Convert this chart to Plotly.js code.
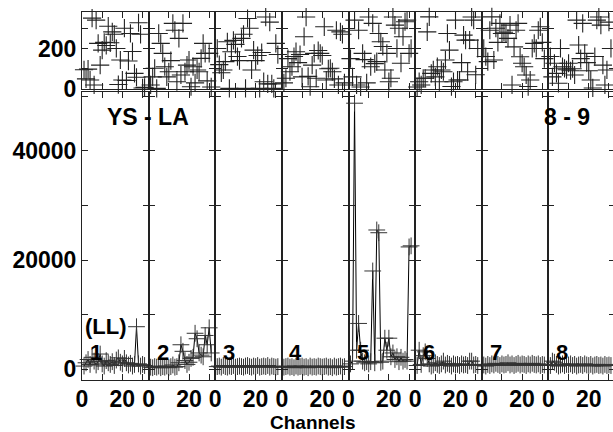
<!DOCTYPE html>
<html>
<head>
<meta charset="utf-8">
<script src="https://cdn.plot.ly/plotly-3.0.1.min.js"></script>
<style>
html,body{margin:0;padding:0;overflow:hidden;background:#fff;}
#chart{width:620px;height:432px;}
</style>
</head>
<body>
<div id="chart"></div>
<script>
// Channel numbers (x values, one panel per IF)
const channels = [1,2,3,4,5,6,7,8,9,10,11,12,13,14,15,16,17,18,19,20,21,22,23,24,25,26,27,28,29,30,31];
const panelLabels = ['1','2','3','4','5','6','7','8'];

// Phase (degrees), top row
const phase1 = [95,50,98,44,350,20,340,225,118,192,230,215,310,228,282,270,200,22,143,44,300,42,138,274,185,77,58,327,270,5,8];
const phase2 = [20,60,102,3,274,225,176,110,60,85,140,324,290,36,250,69,324,85,118,143,11,110,30,94,85,151,225,176,40,176,10];
const phase3 = [200,120,80,94,135,233,3,184,240,220,160,140,250,270,3,348,300,94,192,140,165,3,180,36,355,25,330,25,3,225,170];
const phase4 = [30,53,150,85,110,160,184,130,170,60,258,355,62,11,118,176,53,190,176,165,307,44,100,102,85,50,290,20,282,270,30];
const phase5 = [150,60,340,20,290,10,176,145,30,355,110,324,125,135,274,233,210,94,176,36,53,355,315,200,300,127,258,332,340,176,200];
const phase6 = [10,36,20,53,53,282,356,77,94,60,110,36,94,85,143,274,192,12,36,340,44,44,130,266,241,85,241,355,340,70,200];
const phase7 = [200,160,135,290,356,143,300,230,324,274,280,274,250,315,20,208,290,324,159,127,110,69,12,44,200,225,200,290,307,230,150];
const phase8 = [160,60,127,77,28,200,110,102,95,127,90,100,69,340,217,150,324,176,130,90,44,5,160,340,355,315,118,20,94,330,200];

// Amplitude, bottom row
const amp1 = [600,1200,1800,900,2200,1500,800,1400,2800,1000,600,1600,1200,900,1400,700,1700,2100,1300,1000,2000,1200,800,1100,600,900,7800,1000,600,900,700];
const amp2 = [400,300,500,400,600,300,500,400,600,300,500,800,400,500,1200,4500,3300,1600,900,1300,2000,2200,6600,5600,3000,2600,2300,6200,4500,7600,3000];
const amp3 = [500,600,400,700,500,400,600,500,700,400,500,600,500,400,600,700,500,400,600,500,700,400,500,600,500,700,400,600,500,400,500];
const amp4 = [400,500,600,400,500,300,600,400,500,600,400,500,300,600,400,500,400,600,500,400,500,600,400,500,300,600,400,500,600,400,500];
const amp5 = [1000,1500,48700,3500,8400,3500,1500,1200,1400,1000,1400,18000,1200,25500,25000,1300,1500,5700,3500,5700,2300,3000,1800,2300,1400,2200,1500,1800,1500,22400,22600];
const amp6 = [700,3500,900,2500,3200,2000,1000,600,800,1200,900,700,1000,1500,800,1100,900,600,1000,800,900,700,1000,800,900,700,1500,1500,800,900,700];
const amp7 = [800,600,900,700,1000,800,1100,900,700,1000,800,900,1200,800,1000,700,900,1100,800,1000,900,700,1000,800,1100,900,800,1000,700,900,800];
const amp8 = [700,1500,1300,900,600,800,1000,700,900,800,1000,700,900,600,800,900,700,1000,800,700,900,600,800,900,700,800,600,900,700,800,700];

const phases = [phase1,phase2,phase3,phase4,phase5,phase6,phase7,phase8];
const amps = [amp1,amp2,amp3,amp4,amp5,amp6,amp7,amp8];

const nP = 8;
const W = 620, H = 432;
const mL = 82, mR = 5, mT = 12, mB = 52;
const plotW = W - mL - mR, plotH = H - mT - mB;
const ink = '#222';
const tickFont = {family:'Liberation Sans, Arial, sans-serif', size:23, weight:'bold', color:'#000'};

const data = [];
const layout = {
  width: W, height: H,
  margin: {l:mL, r:mR, t:mT, b:mB, pad:0},
  showlegend: false,
  paper_bgcolor: '#fff', plot_bgcolor: '#fff',
  font: {family:'Liberation Sans, Arial, sans-serif', color:'#000'},
  annotations: []
};

const botTop = 0.7826, topBot = 0.7908;
const xr = [0, 33];

function axName(k){ return k === 1 ? '' : String(k); }

for (let i = 0; i < nP; i++) {
  const kb = 2*i + 1, kt = 2*i + 2;
  const dom = [i/nP, (i+1)/nP];
  const baseX = {
    domain: dom, range: xr, showgrid:false, zeroline:false,
    showline:true, linecolor:ink, linewidth:1, mirror:'allticks',
    ticks:'inside', ticklen:6, tickwidth:1, tickcolor:ink,
    tick0:0, dtick:20, tickformat:'d',
    minor:{dtick:10, tick0:0, ticks:'inside', ticklen:6, tickwidth:1, tickcolor:ink, showgrid:false},
    tickfont: tickFont, fixedrange:true
  };
  layout['xaxis'+axName(kb)] = Object.assign({}, baseX, {anchor:'y'+axName(kb), showticklabels:true, ticklabelstandoff:-2});
  layout['xaxis'+axName(kt)] = Object.assign({}, baseX, {anchor:'y'+axName(kt), showticklabels:false});

  const baseY = {
    showgrid:false, zeroline:false, showline:true, linecolor:ink, linewidth:1,
    mirror:'allticks', ticks:'inside', ticklen:6, tickwidth:1, tickcolor:ink,
    tickfont: tickFont, fixedrange:true, showticklabels: i === 0, ticklabelstandoff:0,
    tickformat:'d'
  };
  layout['yaxis'+axName(kb)] = Object.assign({}, baseY, {
    domain:[0, botTop], anchor:'x'+axName(kb), range:[-1950, 50750],
    tick0:0, dtick:20000,
    minor:{dtick:10000, tick0:0, ticks:'inside', ticklen:6, tickwidth:1, tickcolor:ink, showgrid:false}
  });
  layout['yaxis'+axName(kt)] = Object.assign({}, baseY, {
    domain:[topBot, 1], anchor:'x'+axName(kt), range:[0, 380],
    tick0:0, dtick:200,
    minor:{dtick:100, tick0:0, ticks:'inside', ticklen:6, tickwidth:1, tickcolor:ink, showgrid:false}
  });

  data.push({
    type:'scatter', mode:'lines+markers', x:channels, y:amps[i],
    xaxis:'x'+axName(kb), yaxis:'y'+axName(kb), cliponaxis:false,
    line:{color:'#000', width:1},
    marker:{symbol:'cross-thin-open', size:12, color:'#333', line:{color:'#333', width:1}}
  });
  data.push({
    type:'scatter', mode:'markers', x:channels, y:phases[i],
    xaxis:'x'+axName(kt), yaxis:'y'+axName(kt), cliponaxis:false,
    marker:{symbol:'cross-thin-open', size:13, color:'#222', line:{color:'#222', width:1.1}}
  });

  layout.annotations.push({
    xref:'paper', yref:'paper',
    x:(96 + i*plotW/nP - mL)/plotW, y:(H - mB - 352)/plotH,
    text: panelLabels[i], showarrow:false, xanchor:'center', yanchor:'middle',
    font:{size:22, weight:'bold', color:'#000'}
  });
}

function px(xp){ return (xp - mL)/plotW; }
function py(yp){ return (H - mB - yp)/plotH; }
layout.annotations.push(
  {xref:'paper', yref:'paper', x:px(148), y:py(117), text:'YS - LA', showarrow:false, xanchor:'center', yanchor:'middle', font:{size:23, weight:'bold', color:'#000'}},
  {xref:'paper', yref:'paper', x:px(567), y:py(117), text:'8 - 9', showarrow:false, xanchor:'center', yanchor:'middle', font:{size:23, weight:'bold', color:'#000'}},
  {xref:'paper', yref:'paper', x:px(106), y:py(326), text:'(LL)', showarrow:false, xanchor:'center', yanchor:'middle', font:{size:22, weight:'bold', color:'#000'}},
  {xref:'paper', yref:'paper', x:px(313), y:py(422), text:'Channels', showarrow:false, xanchor:'center', yanchor:'middle', font:{size:19, weight:'bold', color:'#000'}}
);

Plotly.newPlot('chart', data, layout, {staticPlot:true, displayModeBar:false});
</script>
</body>
</html>
